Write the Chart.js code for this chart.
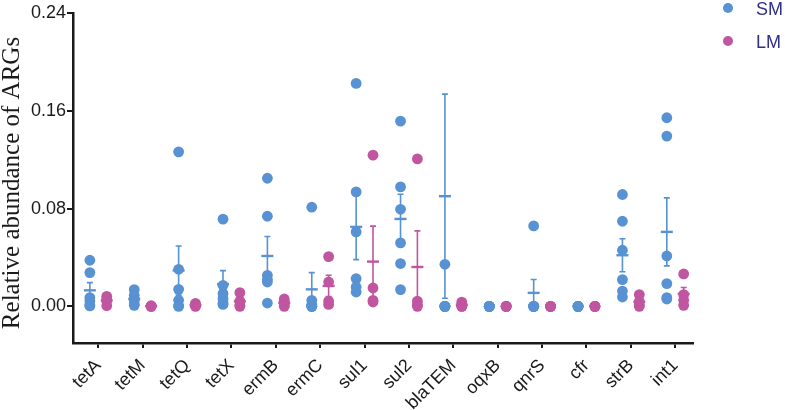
<!DOCTYPE html>
<html><head><meta charset="utf-8">
<script src="https://cdn.jsdelivr.net/npm/chart.js@4/dist/chart.umd.min.js"></script>
<style>html,body{margin:0;padding:0;background:#fff}#wrap{width:785px;height:410px;position:relative}</style>
</head><body><div id="wrap"><canvas id="c" width="785" height="410"></canvas></div>
<script>
const categories = ['tetA','tetM','tetQ','tetX','ermB','ermC','sul1','sul2','blaTEM','oqxB','qnrS','cfr','strB','int1'];
const seriesNames = ['SM','LM'];
const yTicks = [0, 0.08, 0.16, 0.24];
const yTitle = 'Relative abundance of ARGs';

// SM samples (n=6) per gene
const smValues = [
  [0.0377, 0.0276, 0.0071, 0.0043, 0.0010, 0.0003],
  [0.0137, 0.0090, 0.0060, 0.0049, 0.0020, 0.0008],
  [0.1264, 0.0303, 0.0139, 0.0049, 0.0005, 0.0],
  [0.0713, 0.0172, 0.0104, 0.0063, 0.0030, 0.0016],
  [0.1048, 0.0737, 0.0254, 0.0220, 0.0199, 0.0027],
  [0.0811, 0.0049, 0.0015, 0.0, 0.0, 0.0],
  [0.1824, 0.0936, 0.0609, 0.0227, 0.0158, 0.0117],
  [0.1515, 0.0977, 0.0794, 0.0519, 0.0350, 0.0137],
  [0.0344, 0.0, 0.0, 0.0, 0.0, 0.0],
  [0.0, 0.0, 0.0, 0.0, 0.0, 0.0],
  [0.0658, 0.0, 0.0, 0.0, 0.0, 0.0],
  [0.0, 0.0, 0.0, 0.0, 0.0, 0.0],
  [0.0915, 0.0696, 0.0459, 0.0219, 0.0125, 0.0076],
  [0.1543, 0.1393, 0.0412, 0.0186, 0.0071, 0.0060]
];
// LM samples (n=4) per gene
const lmValues = [
  [0.0082, 0.0060, 0.0043, 0.0005],
  [0.0005, 0.0002, 0.0, 0.0],
  [0.0025, 0.0010, 0.0003, 0.0],
  [0.0112, 0.0043, 0.0010, 0.0],
  [0.0060, 0.0040, 0.0015, 0.0],
  [0.0407, 0.0199, 0.0043, 0.0016],
  [0.1237, 0.0150, 0.0049, 0.0035],
  [0.1206, 0.0043, 0.0015, 0.0],
  [0.0035, 0.0015, 0.0, 0.0],
  [0.0, 0.0, 0.0, 0.0],
  [0.0, 0.0, 0.0, 0.0],
  [0.0, 0.0, 0.0, 0.0],
  [0.0096, 0.0040, 0.0010, 0.0],
  [0.0265, 0.0096, 0.0050, 0.0008]
];
// mean and SEM
const smMean = [0.0131, 0.0061, 0.0293, 0.0182, 0.0412, 0.0139, 0.0650, 0.0715, 0.0901, 0, 0.0110, 0, 0.0418, 0.0609];
const smSem  = [0.0063, 0.0021, 0.0201, 0.0110, 0.0159, 0.0137, 0.0268, 0.0202, 0.0835, 0, 0.0110, 0, 0.0135, 0.0278];
const lmMean = [0.0048, 0.0002, 0.0010, 0.0041, 0.0029, 0.0167, 0.0366, 0.0322, 0.0013, 0, 0, 0, 0.0037, 0.0102];
const lmSem  = [0.0016, 0.0001, 0.0006, 0.0025, 0.0013, 0.0087, 0.0290, 0.0295, 0.0008, 0, 0, 0, 0.0021, 0.0052];

const BLUE = '#5892D3';
const PINK = '#C055A0';
const AXIS = '#1a1a1a';
const OFF = 0.19;

function toPoints(groups, dx) {
  const out = [];
  groups.forEach((vals, i) => vals.forEach(v => out.push({x: i + dx, y: v})));
  return out;
}

const errorBarPlugin = {
  id: 'errorBars',
  afterDatasetsDraw(chart) {
    const {ctx, scales: {x, y}} = chart;
    const groups = [
      {mean: smMean, sem: smSem, dx: -OFF, color: BLUE},
      {mean: lmMean, sem: lmSem, dx: OFF, color: PINK}
    ];
    ctx.save();
    groups.forEach(g => {
      ctx.strokeStyle = g.color;
      g.mean.forEach((m, i) => {
        if (!(g.sem[i] > 0)) return;
        const px = x.getPixelForValue(i + g.dx);
        const pm = y.getPixelForValue(m);
        const pt = y.getPixelForValue(m + g.sem[i]);
        const pb = y.getPixelForValue(m - g.sem[i]);
        ctx.lineWidth = 1.6;
        ctx.beginPath();
        ctx.moveTo(px, pt); ctx.lineTo(px, pb);
        ctx.moveTo(px - 3, pt); ctx.lineTo(px + 3, pt);
        ctx.moveTo(px - 3, pb); ctx.lineTo(px + 3, pb);
        ctx.stroke();
        ctx.lineWidth = 2.4;
        ctx.beginPath();
        ctx.moveTo(px - 6, pm); ctx.lineTo(px + 6, pm);
        ctx.stroke();
      });
    });
    ctx.restore();
  }
};

const decorPlugin = {
  id: 'decor',
  afterDraw(chart) {
    const ctx = chart.ctx;
    ctx.save();
    // y axis title
    ctx.translate(19, 183);
    ctx.rotate(-Math.PI / 2);
    ctx.fillStyle = AXIS;
    ctx.font = '25px "Liberation Serif", "Times New Roman", serif';
    ctx.textAlign = 'center';
    ctx.textBaseline = 'alphabetic';
    ctx.fillText(yTitle, 0, 0);
    ctx.restore();
    // legend
    ctx.save();
    const items = [{name: seriesNames[0], color: BLUE, y: 9}, {name: seriesNames[1], color: PINK, y: 42}];
    ctx.font = '18px "Liberation Sans", Arial, sans-serif';
    ctx.textBaseline = 'middle';
    ctx.textAlign = 'left';
    items.forEach(it => {
      ctx.fillStyle = it.color;
      ctx.beginPath();
      ctx.arc(728, it.y - 1, 5, 0, Math.PI * 2);
      ctx.fill();
      ctx.fillStyle = '#2f2f8c';
      ctx.fillText(it.name, 756, it.y + 1);
    });
    ctx.restore();
  }
};

new Chart(document.getElementById('c'), {
  type: 'scatter',
  data: {
    datasets: [
      {label: seriesNames[0], data: toPoints(smValues, -OFF), backgroundColor: BLUE, borderWidth: 0, pointRadius: 5.4, pointHoverRadius: 5.4},
      {label: seriesNames[1], data: toPoints(lmValues, OFF), backgroundColor: PINK, borderWidth: 0, pointRadius: 5.4, pointHoverRadius: 5.4}
    ]
  },
  options: {
    responsive: false,
    animation: false,
    devicePixelRatio: 1,
    layout: {padding: {left: 0, right: 92, top: 13, bottom: 0}},
    plugins: {legend: {display: false}, tooltip: {enabled: false}},
    scales: {
      x: {
        type: 'linear', min: -0.57, max: 13.4,
        afterBuildTicks: s => { s.ticks = categories.map((c, i) => ({value: i})); },
        afterFit: s => { s.height = 67; },
        grid: {display: true, drawOnChartArea: false, drawTicks: true, tickLength: 5, color: AXIS, lineWidth: 2},
        border: {display: true, color: AXIS, width: 2.5},
        ticks: {autoSkip: false, maxRotation: 45, minRotation: 45, padding: 7, color: AXIS,
          font: {family: '"Liberation Sans", Arial, sans-serif', size: 18},
          callback: (v, i) => categories[i]}
      },
      y: {
        min: -0.03, max: 0.24,
        afterBuildTicks: s => { s.ticks = yTicks.map(v => ({value: v})); },
        afterFit: s => { s.width = 73; },
        grid: {display: true, drawOnChartArea: false, drawTicks: true, tickLength: 6, color: AXIS, lineWidth: 2},
        border: {display: true, color: AXIS, width: 2.5},
        ticks: {padding: 1, color: AXIS, font: {family: '"Liberation Sans", Arial, sans-serif', size: 18},
          callback: v => Number(v).toFixed(2)}
      }
    }
  },
  plugins: [errorBarPlugin, decorPlugin]
});
</script>
</body></html>
